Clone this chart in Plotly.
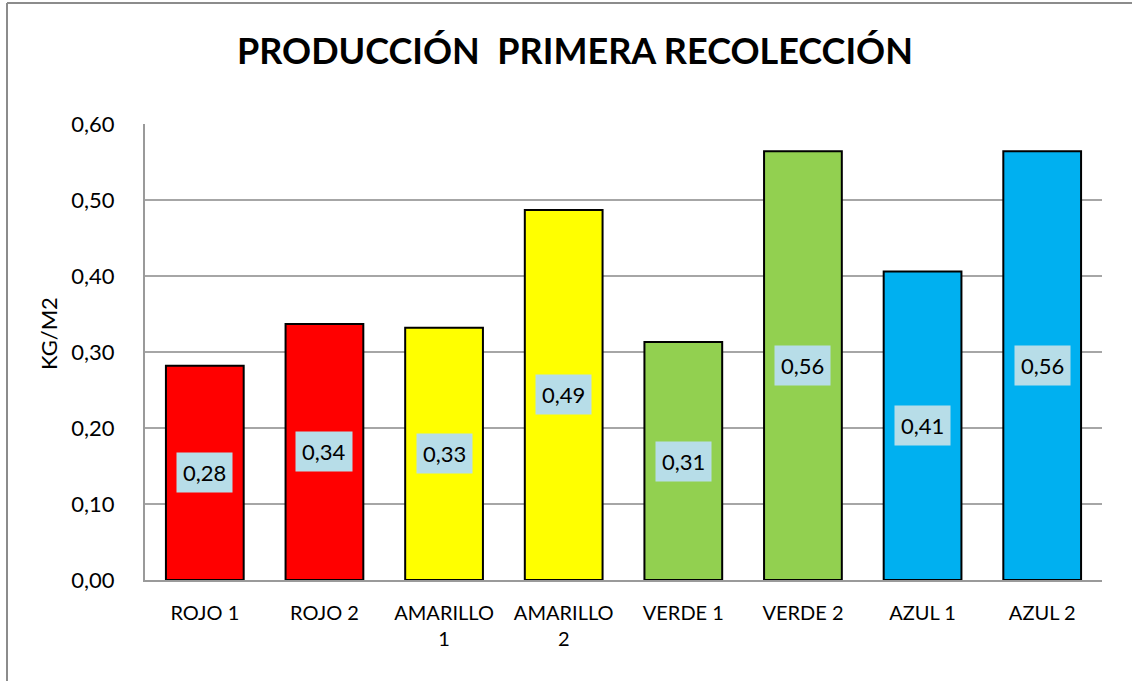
import plotly.graph_objects as go

categories = ["ROJO 1", "ROJO 2", "AMARILLO<br>1", "AMARILLO<br>2", "VERDE 1", "VERDE 2", "AZUL 1", "AZUL 2"]
values = [0.282, 0.337, 0.332, 0.487, 0.313, 0.564, 0.406, 0.564]
colors = ["#FF0000", "#FF0000", "#FFFF00", "#FFFF00", "#92D050", "#92D050", "#00B0F0", "#00B0F0"]
tick_vals = [0.0, 0.1, 0.2, 0.3, 0.4, 0.5, 0.6]
tick_text = ["0,00", "0,10", "0,20", "0,30", "0,40", "0,50", "0,60"]
title = "PRODUCCIÓN  PRIMERA RECOLECCIÓN"
y_title = "KG/M2"

FONT = "Lato, Liberation Sans, sans-serif"

# plot area in page pixels
L, R, T, B = 145, 1102, 124, 580
W, H = 1132, 681
PW, PH = R - L, B - T


def px(x):
    return (x - L) / PW


def py(y):
    return (B - y) / PH


fig = go.Figure()
fig.add_trace(go.Bar(
    x=categories, y=values,
    marker=dict(color=colors, line=dict(color="black", width=2)),
    hoverinfo="skip",
))

for c, v in zip(categories, values):
    fig.add_annotation(
        x=c, y=v / 2, xref="x", yref="y",
        text=f"{v:.2f}".replace(".", ","),
        showarrow=False, bgcolor="#B7DDE8",
        font=dict(family=FONT, size=22, color="black"),
        borderpad=6,
    )

fig.add_annotation(
    x=px(575), y=py(50), xref="paper", yref="paper",
    text=f"<b>{title}</b>", showarrow=False,
    font=dict(family=FONT, size=36, color="black"),
    xanchor="center", yanchor="middle",
)

fig.add_annotation(
    x=px(48), y=py(334), xref="paper", yref="paper",
    text=y_title, showarrow=False, textangle=-90,
    font=dict(family=FONT, size=22, color="black"),
    xanchor="center", yanchor="middle",
)

# chart outer border (top and left visible)
fig.add_shape(type="line", xref="paper", yref="paper",
              x0=px(7), x1=px(1140), y0=py(3), y1=py(3),
              line=dict(color="#8C8C8C", width=2), layer="below")
fig.add_shape(type="line", xref="paper", yref="paper",
              x0=px(7), x1=px(7), y0=py(3), y1=py(700),
              line=dict(color="#8C8C8C", width=2), layer="below")

fig.update_layout(
    width=W, height=H,
    margin=dict(l=L, r=W - R, t=T, b=H - B),
    paper_bgcolor="white", plot_bgcolor="white",
    bargap=0.35, showlegend=False,
    font=dict(family=FONT, color="black"),
    xaxis=dict(
        showline=True, linecolor="#9A9A9A", linewidth=2,
        tickfont=dict(size=20, family=FONT),
        showgrid=False, ticks="", ticklabelstandoff=14,
    ),
    yaxis=dict(
        range=[0, 0.6], tickvals=tick_vals, ticktext=tick_text,
        showline=True, linecolor="#9A9A9A", linewidth=2,
        showgrid=True, gridcolor="#A6A6A6", gridwidth=2,
        tickfont=dict(size=22, family=FONT),
        ticks="", ticklabelstandoff=24, zeroline=False,
    ),
)

fig.write_html("out.html", config={"displayModeBar": False},
               post_script="document.body.style.margin='0';")
